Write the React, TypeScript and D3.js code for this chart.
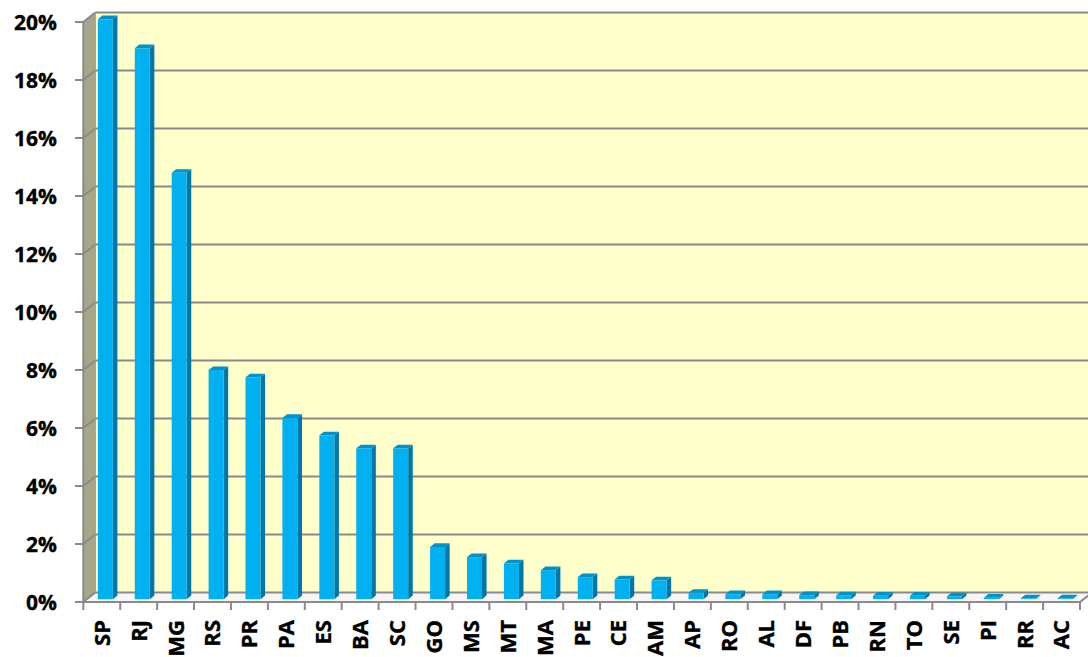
import React from "react";
import * as d3 from "d3";

const categories = ["SP","RJ","MG","RS","PR","PA","ES","BA","SC","GO","MS","MT","MA","PE","CE","AM","AP","RO","AL","DF","PB","RN","TO","SE","PI","RR","AC"];
const values = [20.0,19.0,14.7,7.9,7.65,6.25,5.65,5.2,5.2,1.8,1.45,1.23,1.0,0.76,0.68,0.65,0.22,0.17,0.17,0.14,0.13,0.12,0.12,0.1,0.05,0.03,0.03];
const yTicks = [0,2,4,6,8,10,12,14,16,18,20];

const W = 1088, H = 657;
const DX = 12, DY = 9.5; // depth offset
const x0 = 83.3, x1 = 1080;

export default function App() {
  const x = d3.scaleBand<string>().domain(categories).range([x0, x1]).paddingInner(0).paddingOuter(0);
  const y = d3.scaleLinear().domain([0, 20]).range([602, 22]);
  const P = (xf: number, v: number, d: number): [number, number] => [xf + DX * d, y(v) - DY * d];
  const pts = (arr: [number, number][]) => arr.map(p => p.join(",")).join(" ");
  const bw = 15, d0 = 0.3, d1 = 0.68;
  const grid = "#8a8a8a";
  const font = "'Open Sans', 'Liberation Sans', sans-serif";

  return (
    <svg width={W} height={H} style={{ position: "absolute", left: 0, top: 0, background: "#fff" }}>
      {/* back wall */}
      <polygon points={pts([P(x0, 20, 1), [W + 20, y(20) - DY], [W + 20, y(0) - DY], P(x0, 0, 1)])} fill="#FFFFCC" />
      {/* side wall */}
      <polygon points={pts([P(x0, 20, 0), P(x0, 20, 1), P(x0, 0, 1), P(x0, 0, 0)])} fill="#A8A68A" />
      {/* floor */}
      <polygon points={pts([P(x0, 0, 0), P(x1, 0, 0), P(x1, 0, 1), P(x0, 0, 1)])} fill="#F6F6F6" />
      {/* gridlines */}
      {yTicks.map(t => (
        <g key={t}>
          <line x1={P(x0, t, 0)[0]} y1={P(x0, t, 0)[1]} x2={P(x0, t, 1)[0]} y2={P(x0, t, 1)[1]} stroke={grid} strokeWidth={2} />
          <line x1={P(x0, t, 1)[0]} y1={P(x0, t, 1)[1]} x2={W + 20} y2={P(x0, t, 1)[1]} stroke={grid} strokeWidth={2} />
          <line x1={75} y1={y(t)} x2={x0} y2={y(t)} stroke={grid} strokeWidth={2} />
          <text x={57} y={y(t)} dy="0.36em" textAnchor="end" fontFamily={font} fontWeight="bold" fontSize={21} fill="#000" stroke="#000" strokeWidth={0.35}>{t}%</text>
        </g>
      ))}
      {/* vertical axis lines */}
      <line x1={x0} y1={y(20)} x2={x0} y2={y(0)} stroke={grid} strokeWidth={2} />
      <line x1={P(x0, 0, 1)[0]} y1={P(x0, 20, 1)[1]} x2={P(x0, 0, 1)[0]} y2={P(x0, 0, 1)[1]} stroke="#9a9a80" strokeWidth={1} />
      {/* floor front edge and right edge */}
      <line x1={x0} y1={y(0)} x2={x1} y2={y(0)} stroke={grid} strokeWidth={2} />
      <line x1={x1} y1={y(0)} x2={P(x1, 0, 1)[0]} y2={P(x1, 0, 1)[1]} stroke={grid} strokeWidth={2} />
      {/* category ticks */}
      {[...categories.map(c => x(c)!), x1].map((t, i) => (
        <line key={i} x1={t} y1={y(0)} x2={t} y2={610} stroke={grid} strokeWidth={2} />
      ))}
      {/* bars */}
      {categories.map((c, i) => {
        const v = values[i];
        const cx = x(c)! + x.bandwidth() / 2;
        const l = cx - bw / 2, r = cx + bw / 2;
        const front = [P(l, v, d0), P(r, v, d0), P(r, 0, d0), P(l, 0, d0)] as [number, number][];
        const side = [P(r, v, d0), P(r, v, d1), P(r, 0, d1), P(r, 0, d0)] as [number, number][];
        const top = [P(l, v, d0), P(l, v, d1), P(r, v, d1), P(r, v, d0)] as [number, number][];
        return (
          <g key={c}>
            <polygon points={pts(side)} fill="#0077A6" />
            <polygon points={pts(top)} fill="#0092C8" />
            <polygon points={pts(front)} fill="#00B0F0" />
          </g>
        );
      })}
      {/* category labels */}
      {categories.map(c => {
        const cx = x(c)! + x.bandwidth() / 2;
        return (
          <text key={c} transform={`translate(${cx},620) rotate(-90)`} dy="0.36em" textAnchor="end" fontFamily={font} fontWeight="bold" fontSize={22} fill="#000" stroke="#000" strokeWidth={0.35}>{c}</text>
        );
      })}
    </svg>
  );
}
